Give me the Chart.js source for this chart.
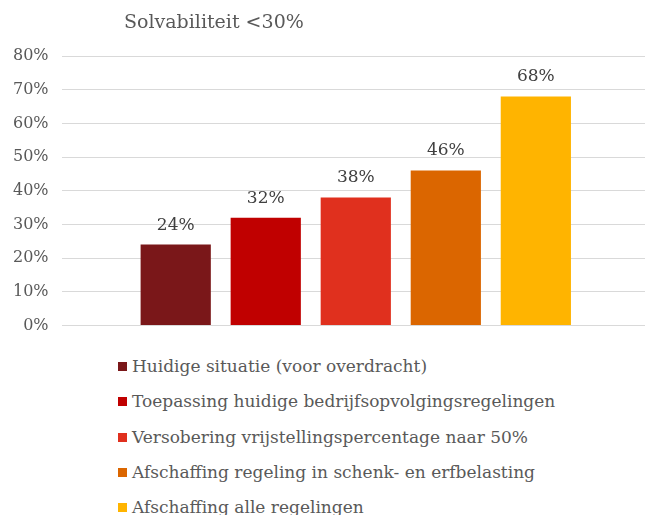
<!DOCTYPE html>
<html>
<head>
<meta charset="utf-8">
<script src="https://cdn.jsdelivr.net/npm/chart.js@4/dist/chart.umd.min.js"></script>
<style>
  body { margin: 0; background: #fff; overflow: hidden; font-family: "DejaVu Serif", serif; }
  #wrap { position: relative; width: 645px; height: 515px; overflow: hidden; }
  #title { position: absolute; left: 124px; top: 10px; font-size: 19px; color: #595959; white-space: nowrap; }
  #box { position: absolute; left: 0; top: 0; width: 650px; height: 348px; }
  #legend { position: absolute; left: 118px; top: 354px; margin: 0; padding: 0; list-style: none; }
  #legend li { height: 35.3px; line-height: 24px; font-size: 17px; color: #595959; white-space: nowrap; }
  #legend span { display: inline-block; width: 9px; height: 9px; margin-right: 5px; vertical-align: 1px; }
</style>
</head>
<body>
<div id="wrap">
  <div id="box"><canvas id="solvChart"></canvas></div>
  <div id="title">Solvabiliteit &lt;30%</div>
  <ul id="legend"></ul>
</div>
<script>
const categories = [''];
const seriesNames = [
  'Huidige situatie (voor overdracht)',
  'Toepassing huidige bedrijfsopvolgingsregelingen',
  'Versobering vrijstellingspercentage naar 50%',
  'Afschaffing regeling in schenk- en erfbelasting',
  'Afschaffing alle regelingen'
];
const seriesValues = [24, 32, 38, 46, 68];
const seriesColors = ['#7a1719', '#c00000', '#e0301e', '#db6600', '#ffb400'];
const yTicks = [0, 10, 20, 30, 40, 50, 60, 70, 80];

// labels above the bars
const valueLabels = {
  id: 'valueLabels',
  afterDatasetsDraw(chart) {
    const ctx = chart.ctx;
    ctx.save();
    ctx.font = '17px "DejaVu Serif", serif';
    ctx.fillStyle = '#404040';
    ctx.textAlign = 'center';
    ctx.textBaseline = 'bottom';
    chart.data.datasets.forEach((ds, i) => {
      chart.getDatasetMeta(i).data.forEach((bar, j) => {
        ctx.fillText(ds.data[j] + '%', bar.x, bar.y - 11);
      });
    });
    ctx.restore();
  }
};

window.addEventListener('DOMContentLoaded', () => {
  const ctx = document.getElementById('solvChart');
  const chart = new Chart(ctx, {
    type: 'bar',
    data: {
      labels: categories,
      datasets: seriesNames.map((name, i) => ({
        label: name,
        data: [seriesValues[i]],
        backgroundColor: seriesColors[i],
        categoryPercentage: 0.765,
        barPercentage: 0.78
      }))
    },
    options: {
      responsive: true,
      maintainAspectRatio: false,
      animation: false,
      layout: { padding: { top: 56, right: 0, bottom: 7, left: 0 } },
      plugins: {
        legend: { display: false },
        tooltip: { enabled: false }
      },
      scales: {
        x: { display: false },
        y: {
          min: yTicks[0],
          max: yTicks[yTicks.length - 1],
          afterBuildTicks: axis => { axis.ticks = yTicks.map(v => ({ value: v })); },
          border: { display: false },
          grid: { color: '#d9d9d9', lineWidth: 1, drawTicks: false },
          ticks: {
            padding: 13,
            color: '#595959',
            font: { family: '"DejaVu Serif", serif', size: 16 },
            callback: v => v + '%'
          }
        }
      }
    },
    plugins: [valueLabels]
  });

  const legend = document.getElementById('legend');
  chart.data.datasets.forEach(ds => {
    const li = document.createElement('li');
    const sw = document.createElement('span');
    sw.style.background = ds.backgroundColor;
    li.appendChild(sw);
    li.appendChild(document.createTextNode(ds.label));
    legend.appendChild(li);
  });
});
</script>
</body>
</html>
